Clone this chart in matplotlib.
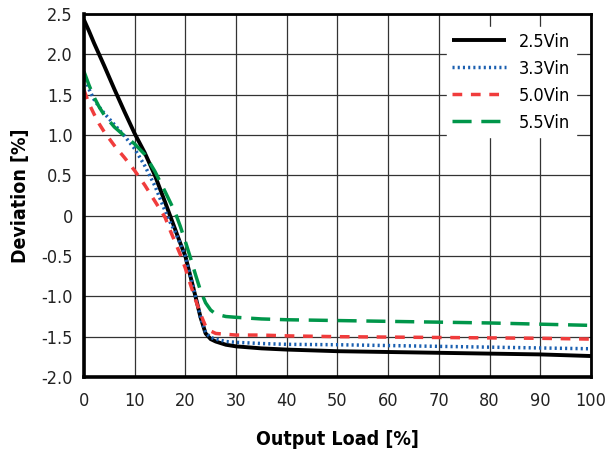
import matplotlib
matplotlib.use("Agg")
import matplotlib.pyplot as plt

# Data
load = [0, 1, 2, 3, 4, 6, 8, 10, 12, 14, 16, 17, 18, 19, 20, 21, 22, 23, 24, 25, 26, 28, 30, 35, 40, 50, 60, 70, 80, 90, 100]

v25 = [2.43, 2.29, 2.14, 2.00, 1.86, 1.57, 1.29, 1.02, 0.78, 0.50, 0.17, 0.00, -0.17, -0.34, -0.50, -0.75, -1.00, -1.26, -1.46, -1.53, -1.56, -1.60, -1.62, -1.645, -1.66, -1.68, -1.69, -1.70, -1.71, -1.72, -1.74]
v33 = [1.75, 1.57, 1.44, 1.35, 1.27, 1.13, 0.99, 0.83, 0.62, 0.37, 0.06, -0.08, -0.20, -0.35, -0.50, -0.75, -1.00, -1.26, -1.45, -1.51, -1.53, -1.56, -1.57, -1.585, -1.595, -1.60, -1.61, -1.62, -1.63, -1.64, -1.65]
v50 = [1.56, 1.39, 1.26, 1.14, 1.04, 0.87, 0.72, 0.56, 0.38, 0.18, -0.02, -0.18, -0.33, -0.48, -0.65, -0.85, -1.04, -1.22, -1.37, -1.43, -1.46, -1.47, -1.48, -1.48, -1.49, -1.50, -1.505, -1.51, -1.515, -1.52, -1.53]
v55 = [1.79, 1.62, 1.47, 1.35, 1.25, 1.10, 0.99, 0.89, 0.76, 0.55, 0.30, 0.17, 0.04, -0.13, -0.32, -0.52, -0.73, -0.93, -1.08, -1.17, -1.22, -1.25, -1.26, -1.28, -1.29, -1.30, -1.31, -1.32, -1.33, -1.345, -1.36]

series_labels = ["2.5Vin", "3.3Vin", "5.0Vin", "5.5Vin"]
xticks = list(range(0, 101, 10))
yticks = [2.5, 2.0, 1.5, 1.0, 0.5, 0, -0.5, -1.0, -1.5, -2.0]
ytick_labels = ["2.5", "2.0", "1.5", "1.0", "0.5", "0", "-0.5", "-1.0", "-1.5", "-2.0"]

plt.rcParams['font.family'] = ['DejaVu Sans']
plt.rcParams['font.stretch'] = 'condensed'

fig = plt.figure(figsize=(6.08, 4.54), dpi=100)
ax = fig.add_axes([0.138, 0.1696, 0.834, 0.7994])

ax.plot(load, v25, color='black', lw=2.8, ls='-', label=series_labels[0], solid_capstyle='butt')
ax.plot(load, v33, color='#1a5fb0', lw=2.5, ls=(0, (0.6, 0.9)), label=series_labels[1])
ax.plot(load, v50, color='#f03c3c', lw=2.5, ls=(0, (2.8, 2.5)), label=series_labels[2])
ax.plot(load, v55, color='#00964a', lw=2.5, ls=(0, (5.5, 2.8)), label=series_labels[3])

ax.set_xlim(0, 100)
ax.set_ylim(-2.0, 2.5)
ax.set_xticks(xticks)
ax.set_yticks(yticks)
ax.set_yticklabels(ytick_labels)
ax.tick_params(length=0, labelsize=13, colors='#222222')
ax.tick_params(axis='x', pad=11)
ax.tick_params(axis='y', pad=8)
ax.grid(True, color='#333333', lw=0.9)
ax.set_axisbelow(True)

for s in ['left', 'bottom']:
    ax.spines[s].set_linewidth(2.6)
for s in ['top', 'right']:
    ax.spines[s].set_linewidth(2.0)

ax.set_xlabel("Output Load [%]", fontsize=14, fontweight='bold', labelpad=14)
ax.set_ylabel("Deviation [%]", fontsize=14, fontweight='bold', labelpad=8)

leg = ax.legend(loc='upper right', bbox_to_anchor=(0.970, 0.964), frameon=True, fontsize=13,
                handlelength=3.0, handletextpad=0.7, labelspacing=0.5, borderpad=0.3,
                borderaxespad=0.0, fancybox=False)
leg.get_frame().set_edgecolor('white')
leg.get_frame().set_facecolor('white')
leg.get_frame().set_alpha(1.0)

fig.savefig("out.png", dpi=100)
